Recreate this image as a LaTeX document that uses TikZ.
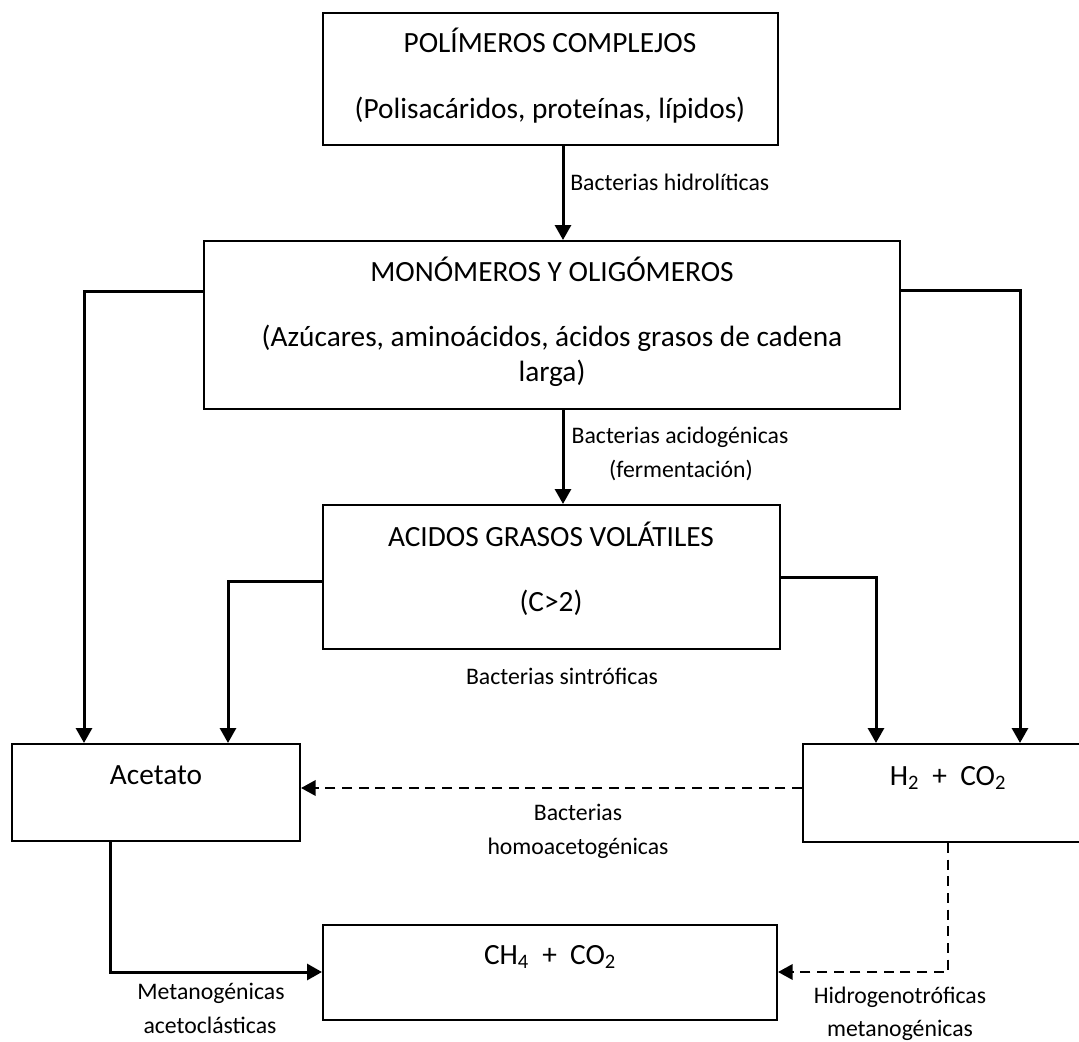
\documentclass[tikz,border=0pt]{standalone}
\usepackage{fontspec}
\setmainfont{Carlito}
\usetikzlibrary{arrows.meta,fit}

\tikzset{
  box/.style={draw=black, line width=1.5pt, inner sep=0pt, rectangle},
  big/.style={inner sep=0pt, anchor=base, font=\fontsize{22}{26}\selectfont},
  lbl/.style={inner sep=0pt, anchor=base, font=\fontsize{17.8}{21}\selectfont},
  arr/.style={line width=2.25pt, -{Triangle[length=11.25pt,width=12pt]}},
  darr/.style={line width=1.9pt, dash pattern=on 7.5pt off 5pt,
               -{Triangle[length=11pt,width=11.5pt]}}
}

\begin{document}
\begin{tikzpicture}[x=0.75pt, y=-0.75pt]
  \useasboundingbox (0,0) rectangle (1079,1042);
  \clip (0,0) rectangle (1079,1042);

  % boxes
  \node[box, fit={(323,13) (778,145)}]   (poly) {};
  \node[box, fit={(204,241) (900,409)}]  (mono) {};
  \node[box, fit={(323,505) (780,649)}]  (agv)  {};
  \node[box, fit={(12,744) (300,841)}]   (ace)  {};
  \node[box, fit={(803,744) (1093,842)}] (htwo) {};
  \node[box, fit={(323,925) (777,1020)}] (ch)   {};

  % box contents
  \node[big] (polyA) at (550,52)  {POLÍMEROS COMPLEJOS};
  \node[big] (polyB) at (550,118) {(Polisacáridos, proteínas, lípidos)};
  \node[big] (monoA) at (552,281) {MONÓMEROS Y OLIGÓMEROS};
  \node[big] (monoB) at (552,346) {(Azúcares, aminoácidos, ácidos grasos de cadena};
  \node[big] (monoC) at (552,381) {larga)};
  \node[big] (agvA)  at (551,546) {ACIDOS GRASOS VOLÁTILES};
  \node[big] (agvB)  at (551,611) {(C>2)};
  \node[big] (aceT)  at (156,784) {Acetato};
  \node[big] (htwoT) at (948,785) {H\textsubscript{2}~~+~~CO\textsubscript{2}};
  \node[big] (chT)   at (550,964) {CH\textsubscript{4}~~+~~CO\textsubscript{2}};

  % connectors
  \draw[arr] (poly.south -| 563,0) -- (mono.north -| 563,0);
  \draw[arr] (mono.south -| 563,0) -- (agv.north -| 563,0);
  \draw[arr] (mono.west |- 0,291) -| (ace.north -| 84,0);
  \draw[arr] (mono.east |- 0,290) -| (htwo.north -| 1020,0);
  \draw[arr] (agv.west |- 0,581) -| (ace.north -| 228,0);
  \draw[arr] (agv.east |- 0,577) -| (htwo.north -| 876,0);
  \draw[darr] (htwo.west |- 0,788) -- (ace.east |- 0,788);
  \draw[arr] (ace.south -| 110,0) |- (ch.west |- 0,972);
  \draw[darr] (htwo.south -| 948,0) |- (ch.east |- 0,972);

  % connector labels
  \node[lbl, anchor=base west] (hidro) at (570,190) {Bacterias hidrolíticas};
  \node[lbl] (acidoA) at (680,443) {Bacterias acidogénicas};
  \node[lbl] (acidoB) at (681,477) {(fermentación)};
  \node[lbl] (sintro) at (562,684) {Bacterias sintróficas};
  \node[lbl] (homoA)  at (578,820) {Bacterias};
  \node[lbl] (homoB)  at (578,854) {homoacetogénicas};
  \node[lbl] (metaA)  at (211,999) {Metanogénicas};
  \node[lbl] (metaB)  at (210,1033) {acetoclásticas};
  \node[lbl] (hidrA)  at (900,1003) {Hidrogenotróficas};
  \node[lbl] (hidrB)  at (900,1036) {metanogénicas};
\end{tikzpicture}
\end{document}
